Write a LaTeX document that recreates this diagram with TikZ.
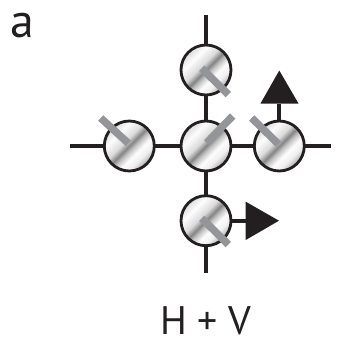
\documentclass[tikz,border=0pt]{standalone}
\usepackage{fontspec}
\setmainfont{PT Sans}
\pgfdeclarehorizontalshading{spin}{100bp}{
 color(0bp)=(black!14);
 color(25bp)=(black!14);
 color(34bp)=(black!1);
 color(44bp)=(black!14);
 color(50bp)=(black!48);
 color(54bp)=(black!24);
 color(60bp)=(black!1);
 color(67bp)=(black!6);
 color(75bp)=(black!34);
 color(100bp)=(black!34)}
\definecolor{ink}{HTML}{231F20}
\definecolor{stick}{HTML}{939598}
\newcommand{\sitedisc}[1]{\begin{scope}
 \clip (#1) circle (25);
 \begin{scope}[transform canvas={shift={(#1)},rotate=-45}]
 \shade[shading=spin] (-25,-25) rectangle (25,25);
 \end{scope}
\end{scope}}
\tikzset{
 x=1bp,y=-1bp,
 site/.style={circle,draw=ink,line width=2.8bp,minimum size=50bp,inner sep=0pt,outer sep=0pt},
 bond/.style={draw=ink,line width=4bp},
 spinbar/.style={draw=stick,line width=7.5bp},
 tri/.style={fill=ink,draw=none},
 label/.style={inner sep=0pt,text=ink}
}
\begin{document}
\begin{tikzpicture}
\useasboundingbox (0,0) rectangle (353,344);
\coordinate (topend) at (206,15);
\coordinate (botend) at (206,273);
\coordinate (leftend) at (70,146);
\coordinate (rightend) at (331,146);
\coordinate (tc) at (206,70);
\coordinate (bc) at (206,220.7);
\coordinate (lc) at (129.3,146);
\coordinate (cc) at (206,146);
\coordinate (rc) at (279.3,146);
\draw[bond] (topend) -- (botend);
\draw[bond] (leftend) -- (rightend);
\coordinate (upbase) at (279.3,103.5);
\coordinate (rightbase) at (246,220.7);
\sitedisc{tc}\sitedisc{bc}\sitedisc{lc}\sitedisc{cc}\sitedisc{rc}
\node[site] (T) at (tc) {};
\node[site] (B) at (bc) {};
\node[site] (L) at (lc) {};
\node[site] (C) at (cc) {};
\node[site] (R) at (rc) {};
\draw[bond] (R.north) -- (upbase);
\draw[bond] (B.east) -- (rightbase);
\fill[tri] (279.3,70.5) -- (298.5,103.5) -- (260.5,103.5) -- cycle;
\fill[tri] (279,220.7) -- (245.7,201.7) -- (245.7,240) -- cycle;
\coordinate (Ta) at (201.7,68.3); \coordinate (Tb) at (228.3,94.5);
\coordinate (Ba) at (201.7,218.3); \coordinate (Bb) at (228.3,244.5);
\coordinate (Ca) at (206.7,142.7); \coordinate (Cb) at (232.7,116);
\coordinate (La) at (128.3,143.3); \coordinate (Lb) at (100.7,118);
\coordinate (Ra) at (278.3,144); \coordinate (Rb) at (251.7,118);
\draw[spinbar] (Ta) -- (Tb);
\draw[spinbar] (Ba) -- (Bb);
\draw[spinbar] (Ca) -- (Cb);
\draw[spinbar] (La) -- (Lb);
\draw[spinbar] (Ra) -- (Rb);
\node[label,font=\fontsize{48}{48}\selectfont,anchor=base west] (a) at (10,37) {a};
\node[label,font=\fontsize{40}{40}\selectfont,anchor=base] (hv) at (205.5,334) {H + V};
\end{tikzpicture}
\end{document}
